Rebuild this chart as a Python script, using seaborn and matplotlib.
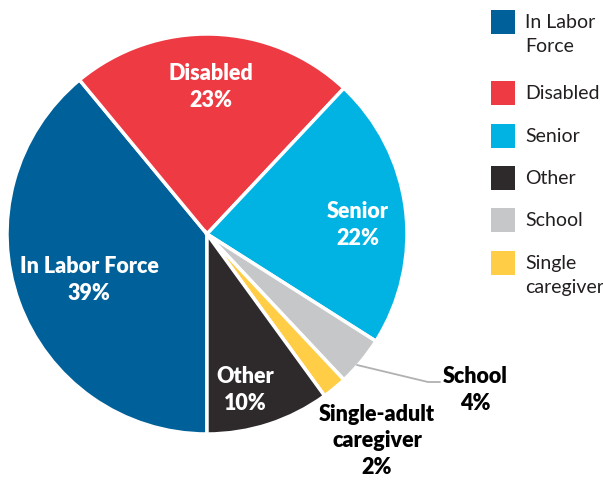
import matplotlib
matplotlib.use("Agg")
import matplotlib.pyplot as plt
from matplotlib.patches import Rectangle
import seaborn as sns

sns.set_style("white")
plt.rcParams["font.family"] = ["Lato", "DejaVu Sans"]

# pie order (clockwise from 6 o'clock)
CATEGORIES = ["In Labor Force", "Disabled", "Senior", "School", "Single-adult caregiver", "Other"]
SHARES = [39, 23, 22, 4, 2, 10]
COLORS = ["#00619a", "#ee3a43", "#00b3e3", "#c6c7c9", "#ffcd46", "#2e2a2b"]

# legend order
LEGEND_LABELS = ["In Labor\nForce", "Disabled", "Senior", "Other", "School", "Single\ncaregiver"]
LEGEND_COLORS = ["#00619a", "#ee3a43", "#00b3e3", "#2e2a2b", "#c6c7c9", "#ffcd46"]

W, H = 603, 482
fig = plt.figure(figsize=(W / 100, H / 100), dpi=100)
ax = fig.add_axes([7 / W, 48 / H, 400 / W, 400 / H])

ax.pie(SHARES, colors=sns.color_palette(COLORS), startangle=270, counterclock=False,
       radius=1, wedgeprops=dict(edgecolor="white", linewidth=2.5))
ax.set_xlim(-1, 1)
ax.set_ylim(-1, 1)
ax.axis("off")

lbl = dict(ha="center", va="center", fontsize=15.5, fontweight="heavy", linespacing=1.4)
ax.text(0.02, 0.735, f"Disabled\n{SHARES[1]}%", color="white", **lbl)
ax.text(0.755, 0.045, f"Senior\n{SHARES[2]}%", color="white", **lbl)
ax.text(-0.59, -0.23, f"In Labor Force\n{SHARES[0]}%", color="white", **lbl)
ax.text(0.19, -0.78, f"Other\n{SHARES[5]}%", color="white", **lbl)
ax.text(1.34, -0.78, f"School\n{SHARES[3]}%", color="black", clip_on=False, **lbl)
ax.text(0.85, -1.035, f"Single-adult\ncaregiver\n{SHARES[4]}%", color="black", clip_on=False,
        **{**lbl, "linespacing": 1.32})

# leader line for School
ax.plot([0.75, 1.105, 1.165], [-0.655, -0.74, -0.74], color="#b0b1b3", lw=1.3, clip_on=False)

# legend drawn in figure pixels
tops = [10, 81, 124, 166, 208, 251]
for top, lab, c in zip(tops, LEGEND_LABELS, LEGEND_COLORS):
    fig.add_artist(Rectangle((491 / W, 1 - (top + 24) / H), 24 / W, 24 / H,
                             transform=fig.transFigure, color=c, lw=0))
    fig.text(525 / W, 1 - (top + 4) / H, lab, ha="left", va="top", fontsize=14,
             color="#231f20", linespacing=1.5)

fig.savefig("out.png", dpi=100)
